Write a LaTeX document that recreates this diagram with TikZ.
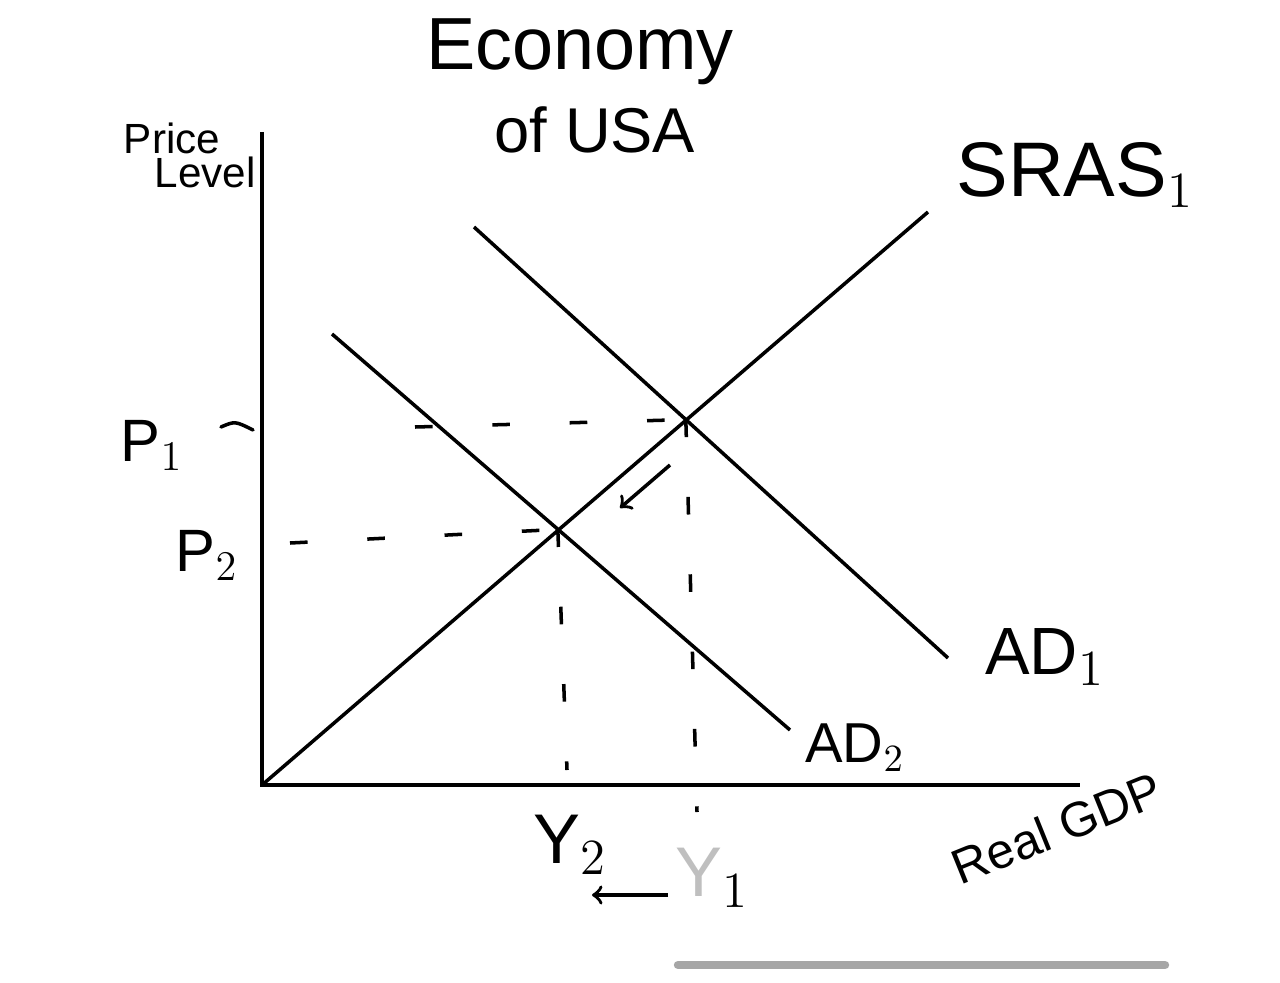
\documentclass[tikz,border=0pt]{standalone}
\usepackage{fontspec}
\setmainfont{Liberation Sans}
\begin{document}
\begin{tikzpicture}[x=0.01cm, y=-0.01cm, line width=1pt,
    guida/.style={dash pattern=on 5pt off 17pt},
    etich/.style={font=\fontsize{17}{20}\selectfont}]
    \useasboundingbox (0,0) rectangle (1280,982);

    % punti
    \coordinate (O) at (262,785);
    \coordinate (ytop) at (262,132);
    \coordinate (xend) at (1080,785);
    \coordinate (E1) at (685.8,419.6);
    \coordinate (E2) at (557.8,529.4);

    % titolo
    \node[font=\fontsize{21}{24}\selectfont] (tit1) at (580,52) {Economy};
    \node[font=\fontsize{18}{22}\selectfont] (tit2) at (595,130) {of USA};

    % disegno assi
    \draw (ytop) -- (O) -- (xend);
    \node[font=\fontsize{12}{14}\selectfont] (ylab1) at (172,138) {Price};
    \node[font=\fontsize{12}{14}\selectfont] (ylab2) at (205,172) {Level};
    \node[font=\fontsize{14}{16}\selectfont, rotate=22] (xlab) at (1057,828) {Real GDP};

    % curve SRAS, AD1, AD2
    \coordinate (sras) at (928,212);
    \coordinate (ad1a) at (474,227);
    \coordinate (ad1b) at (948,658);
    \coordinate (ad2a) at (332,334);
    \coordinate (ad2b) at (790,730);
    \draw (O) -- (sras);
    \draw (ad1a) -- (ad1b);
    \draw (ad2a) -- (ad2b);
    \node[font=\fontsize{22}{26}\selectfont] (lsras) at (1075,175) {SRAS$_1$};
    \node[etich, font=\fontsize{19}{22}\selectfont] (lad1) at (1045,657) {AD$_1$};
    \node[etich, font=\fontsize{16}{20}\selectfont] (lad2) at (855,748) {AD$_2$};

    % livelli dei prezzi
    \coordinate (p1a) at (221,427);
    \coordinate (p1b) at (253,430);
    \draw[line cap=round] (p1a) .. controls (235,421) .. (p1b);
    \node[etich] (lp1) at (152,445) {P$_1$};
    \node[etich] (lp2) at (207,555) {P$_2$};
    \coordinate (g1) at (415,427);
    \coordinate (g2) at (290,543);
    \draw[guida] (g1) -- (E1);
    \draw[guida] (g2) -- (E2);

    % linee verticali
    \coordinate (g3) at (697,812);
    \coordinate (g4) at (567,770);
    \draw[guida] (E1) -- (g3);
    \draw[guida] (E2) -- (g4);
    \node[etich, font=\fontsize{20}{24}\selectfont] (ly2) at (570,845) {Y$_2$};
    \node[etich, font=\fontsize{20}{24}\selectfont] (ly1) at (712,878) {\textcolor{gray!50}{Y}$_1$};

    % frecce
    \coordinate (f1) at (668,895);
    \coordinate (f2) at (592,895);
    \draw[->] (f1) -- (f2);
    \coordinate (f3) at (670,465);
    \coordinate (f4) at (620,508);
    \draw[->] (f3) -- (f4);

    % barra
    \coordinate (b1) at (678,965);
    \coordinate (b2) at (1165,965);
    \draw[gray!70, line width=2.4pt, line cap=round] (b1) -- (b2);
\end{tikzpicture}
\end{document}
